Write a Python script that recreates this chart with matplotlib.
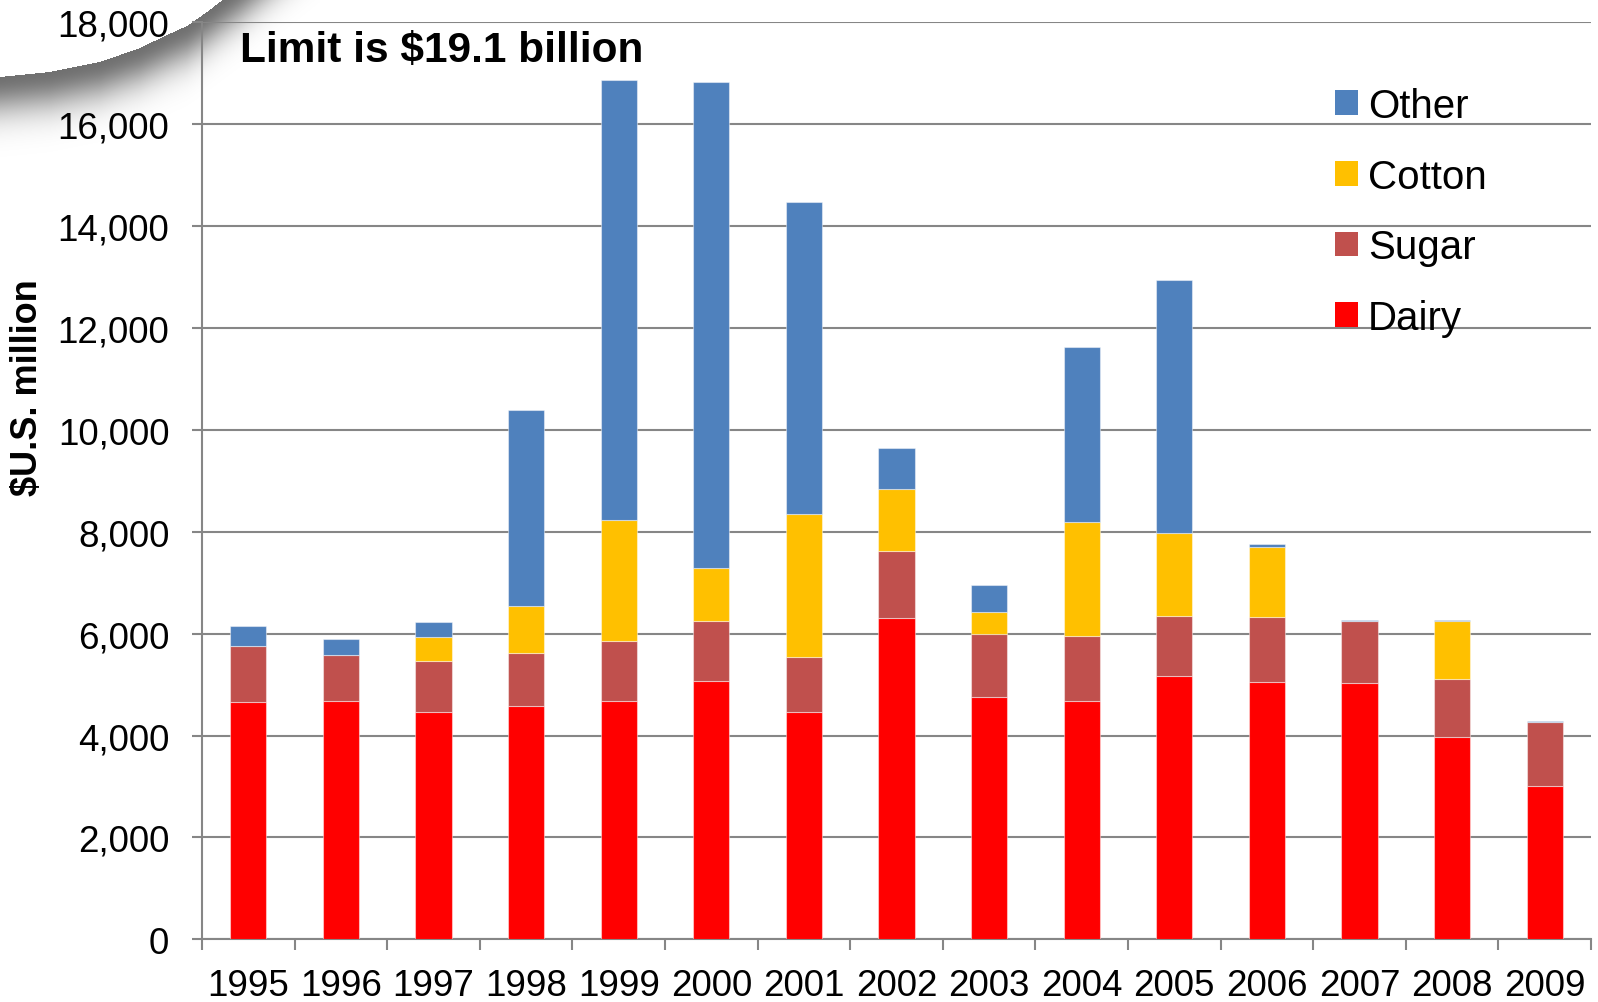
import numpy as np
import matplotlib
matplotlib.use("Agg")
import matplotlib.pyplot as plt
from matplotlib.patches import Patch

plt.rcParams['font.family'] = ['Liberation Sans', 'DejaVu Sans']

years = ['1995', '1996', '1997', '1998', '1999', '2000', '2001', '2002',
         '2003', '2004', '2005', '2006', '2007', '2008', '2009']
dairy = [4650, 4680, 4460, 4570, 4680, 5070, 4470, 6310, 4750, 4670, 5160, 5050, 5030, 3980, 3010]
sugar = [1100, 900, 1010, 1050, 1180, 1180, 1080, 1320, 1240, 1280, 1180, 1270, 1210, 1130, 1250]
cotton = [0, 0, 470, 920, 2370, 1040, 2800, 1200, 440, 2240, 1630, 1380, 0, 1130, 0]
other = [400, 310, 290, 3850, 8640, 9540, 6120, 820, 520, 3440, 4980, 55, 25, 25, 25]

series_names = ['Dairy', 'Sugar', 'Cotton', 'Other']
series_colors = ['#FF0000', '#C0504D', '#FFC000', '#4F81BD']
yticks = list(range(0, 18001, 2000))
title = 'Limit is $19.1 billion'
ylabel = '$U.S. million'

W, H = 1598, 1003
fig = plt.figure(figsize=(W / 100, H / 100), dpi=100)

# decorative page-curl shadow in the top-left corner
cw, ch = 320, 180
ov = fig.add_axes([0, 1 - ch / H, cw / W, ch / H], zorder=0)
ov.set_axis_off()
cx = [-10, 0, 50, 100, 140, 167, 187, 207, 220, 240, 280, 330]
cy = [80, 78, 73, 63, 49, 36, 27, 13, 3, -12, -45, -85]
X, Y = np.meshgrid(np.arange(cw) + 0.5, np.arange(ch) + 0.5)
yc = np.interp(X, cx, cy)
d = Y - yc
alpha = np.where(d >= 0, 0.56 * np.exp(-(d / 36.0) ** 2), 0.0)
img = np.zeros((ch, cw, 4))
img[..., 3] = alpha
ov.imshow(img, extent=(0, cw, ch, 0), aspect='auto', interpolation='bilinear')
ov.set_xlim(0, cw)
ov.set_ylim(ch, 0)

left, right = 202, 1591
top, bottom = 23.3, 940.3
ax = fig.add_axes([left / W, 1 - bottom / H, (right - left) / W, (bottom - top) / H], zorder=1)
ax.set_facecolor('none')

x = np.arange(len(years))
base = np.zeros(len(years))
handles = []
for name, vals, col in zip(series_names, [dairy, sugar, cotton, other], series_colors):
    v = np.array(vals, dtype=float)
    ax.bar(x, v, bottom=base, width=0.39, color=col, edgecolor=(1, 1, 1, 0.45),
           linewidth=0.8, zorder=3)
    base += v
    handles.append(Patch(facecolor=col, edgecolor='none', label=name))

ax.set_xlim(-0.5, len(years) - 0.5)
ax.set_ylim(0, 18000)
gray = '#868686'
ax.set_yticks(yticks)
ax.set_yticklabels([f'{t:,}' for t in yticks], fontsize=26.5)
ax.yaxis.grid(True, color=gray, linewidth=1.5, zorder=0)
ax.set_axisbelow(True)

ax.set_xticks(np.arange(-0.5, len(years), 1.0))
ax.set_xticklabels([])
ax.set_xticks(x, minor=True)
ax.set_xticklabels(years, minor=True, fontsize=26.5)
ax.tick_params(axis='x', which='major', length=8, width=1.5, color=gray, direction='out')
ax.tick_params(axis='x', which='minor', length=0, pad=21)
ax.tick_params(axis='y', length=7.5, width=1.5, color=gray, direction='out', pad=16)

for s in ['top', 'right']:
    ax.spines[s].set_visible(False)
for s in ['left', 'bottom']:
    ax.spines[s].set_color(gray)
    ax.spines[s].set_linewidth(1.5)

fig.text(240 / W, 1 - 51 / H, title, fontsize=30.5, fontweight='bold', va='center', ha='left')
fig.text(28 / W, 1 - 388 / H, ylabel, fontsize=26, fontweight='bold', rotation=90,
         va='center', ha='center')

leg = ax.legend(handles=handles[::-1], loc='upper left',
                bbox_to_anchor=(1335 / W, 1 - 88 / H), bbox_transform=fig.transFigure,
                frameon=False, fontsize=29, handlelength=0.57, handleheight=0.57,
                handletextpad=0.25, labelspacing=0.81, borderpad=0, borderaxespad=0)

fig.savefig('out.png', dpi=100)
